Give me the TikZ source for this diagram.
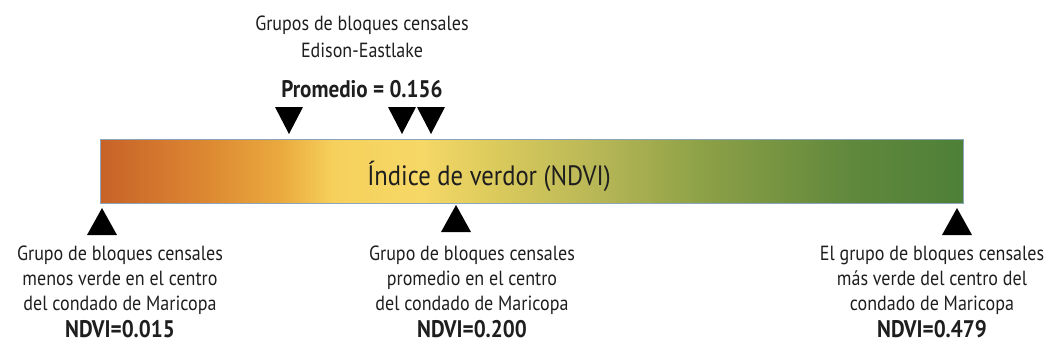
\documentclass[tikz,border=0pt]{standalone}
\usepackage{fontspec}
\setmainfont{PT Sans}[FakeStretch=0.88]
\usetikzlibrary{calc}
\definecolor{c0}{RGB}{200,98,40}
\definecolor{c1}{RGB}{220,135,50}
\definecolor{c2}{RGB}{234,170,62}
\definecolor{c3}{RGB}{246,208,92}
\definecolor{c4}{RGB}{246,216,102}
\definecolor{c5}{RGB}{218,202,92}
\definecolor{c6}{RGB}{182,182,86}
\definecolor{c7}{RGB}{140,160,70}
\definecolor{c8}{RGB}{96,136,60}
\definecolor{c9}{RGB}{78,128,56}
\definecolor{barborder}{RGB}{140,165,190}
\definecolor{ink}{RGB}{30,30,30}
\pgfdeclarehorizontalshading{ndvi}{100bp}{
  color(0bp)=(c0); color(25bp)=(c0); color(31bp)=(c1); color(35.5bp)=(c2); color(38.5bp)=(c3);
  color(43.5bp)=(c4); color(48bp)=(c5); color(54bp)=(c6); color(60bp)=(c7);
  color(68.5bp)=(c8); color(75bp)=(c9); color(100bp)=(c9)}
\begin{document}
\begin{tikzpicture}[x=1pt,y=-1pt,
  lbl/.style={align=center,font=\fontsize{20.5}{25}\selectfont,inner sep=0pt,text=ink},
  hd/.style={font=\fontsize{24}{28}\selectfont\bfseries,inner sep=0pt,text=ink},
  marker/.style={fill=black}]
\useasboundingbox (0,0) rectangle (1055,354);
% bar
\node[draw=barborder,line width=0.8pt,shading=ndvi,minimum width=863pt,minimum height=64pt,inner sep=0pt,anchor=north west] (bar) at (100,139) {};
\node[font=\fontsize{28}{32}\selectfont,inner sep=0pt,anchor=base,text=ink] (barlbl) at (489,185) {Índice de verdor (NDVI)};
% top text
\node[lbl,font=\fontsize{20.5}{27}\selectfont] (top) at (362,37) {Grupos de bloques censales\\Edison-Eastlake};
\node[hd] (prom) at (362,89) {Promedio = 0.156};
% down markers
\coordinate (d1) at (289,134);
\coordinate (d2) at (402,134);
\coordinate (d3) at (431,134);
\foreach \c in {d1,d2,d3}
  \fill[marker] ($(\c)+(-14,-27)$) -- ($(\c)+(14,-27)$) -- (\c) -- cycle;
% up markers
\coordinate (u1) at (102,208);
\coordinate (u2) at (456,205);
\coordinate (u3) at (957,208);
\foreach \c in {u1,u2,u3}
  \fill[marker] (\c) -- ($(\c)+(15,27)$) -- ($(\c)+(-15,27)$) -- cycle;
% bottom texts
\node[lbl,anchor=north] (l1) at (120,246) {Grupo de bloques censales\\menos verde en el centro\\del condado de Maricopa};
\node[hd] (l2) at (120,329) {NDVI=0.015};
\node[lbl,anchor=north] (m1) at (472,246) {Grupo de bloques censales\\promedio en el centro\\del condado de Maricopa};
\node[hd] (m2) at (472,329) {NDVI=0.200};
\node[lbl,anchor=north] (r1) at (932,246) {El grupo de bloques censales\\más verde del centro del\\condado de Maricopa};
\node[hd] (r2) at (932,329) {NDVI=0.479};
\end{tikzpicture}
\end{document}
